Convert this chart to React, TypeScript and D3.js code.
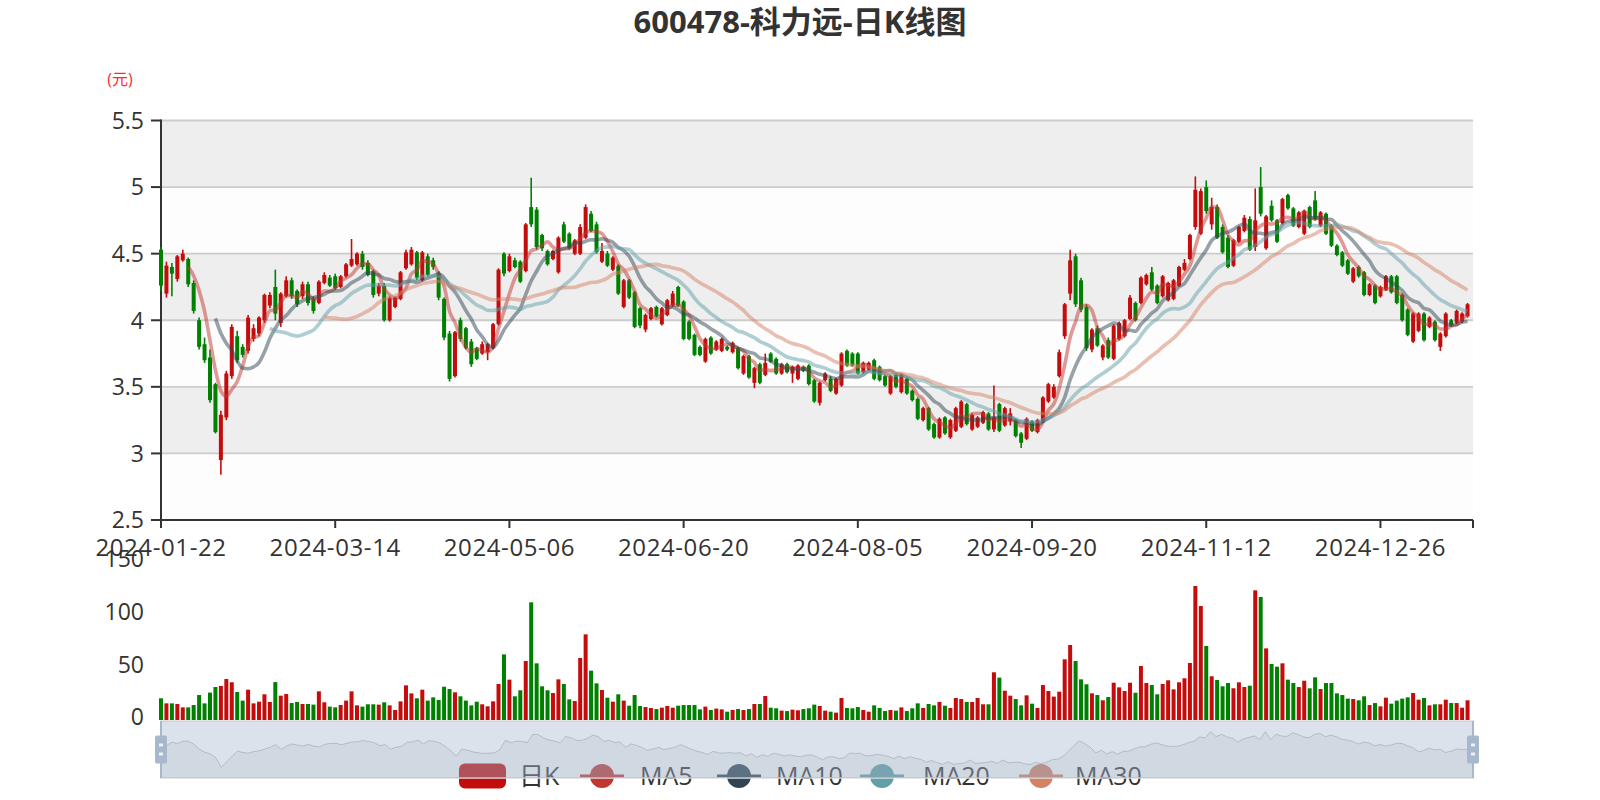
import React from 'react';
import * as d3 from 'd3';

const TITLE = '600478-科力远-日K线图';
const UNIT_LABEL = '(元)';
const START_DATE = '2024-01-22';
const CATEGORY_COUNT = 242;
const HOLIDAYS = [
  '2024-02-09', '2024-02-12', '2024-02-13', '2024-02-14', '2024-02-15', '2024-02-16',
  '2024-04-04', '2024-04-05', '2024-05-01', '2024-05-02', '2024-05-03', '2024-06-10',
  '2024-09-16', '2024-09-17', '2024-10-01', '2024-10-02', '2024-10-03', '2024-10-04',
  '2024-10-07', '2025-01-01',
];

// [open, close, lowest, highest]
const OHLC: [number, number, number, number][] = [
  [4.53, 4.26, 4.22, 4.55], [4.20, 4.41, 4.17, 4.44], [4.40, 4.35, 4.18, 4.43], [4.31, 4.48, 4.29, 4.49], [4.45, 4.50, 4.44, 4.53],
  [4.46, 4.27, 4.25, 4.47], [4.28, 4.07, 4.05, 4.30], [4.00, 3.80, 3.78, 4.02], [3.82, 3.70, 3.68, 3.87], [3.72, 3.40, 3.38, 3.78],
  [3.52, 3.16, 3.15, 3.53], [2.95, 3.29, 2.84, 3.32], [3.27, 3.60, 3.25, 3.62], [3.58, 3.95, 3.56, 3.97], [3.88, 3.70, 3.68, 3.92],
  [3.80, 3.74, 3.72, 3.82], [3.77, 4.02, 3.75, 4.04], [3.86, 3.94, 3.84, 3.97], [3.90, 4.02, 3.88, 4.03], [4.00, 4.19, 3.98, 4.20],
  [4.11, 4.19, 4.09, 4.21], [4.25, 4.05, 4.00, 4.38], [3.98, 4.20, 3.95, 4.21], [4.18, 4.30, 4.17, 4.33], [4.30, 4.18, 4.16, 4.32],
  [4.22, 4.12, 4.10, 4.23], [4.18, 4.27, 4.16, 4.29], [4.27, 4.13, 4.11, 4.29], [4.16, 4.07, 4.05, 4.18], [4.13, 4.29, 4.12, 4.30],
  [4.28, 4.34, 4.27, 4.36], [4.32, 4.26, 4.25, 4.34], [4.33, 4.24, 4.23, 4.35], [4.25, 4.33, 4.24, 4.34], [4.33, 4.42, 4.32, 4.43],
  [4.41, 4.46, 4.40, 4.61], [4.42, 4.50, 4.41, 4.51], [4.50, 4.40, 4.38, 4.52], [4.43, 4.34, 4.33, 4.45], [4.37, 4.19, 4.17, 4.38],
  [4.20, 4.26, 4.18, 4.28], [4.26, 4.00, 3.99, 4.28], [4.00, 4.17, 3.99, 4.18], [4.10, 4.17, 4.09, 4.18], [4.16, 4.36, 4.15, 4.37],
  [4.39, 4.51, 4.38, 4.53], [4.42, 4.53, 4.41, 4.55], [4.51, 4.32, 4.30, 4.52], [4.30, 4.51, 4.29, 4.52], [4.48, 4.34, 4.33, 4.50],
  [4.45, 4.40, 4.38, 4.47], [4.35, 4.17, 4.15, 4.37], [4.16, 3.87, 3.85, 4.17], [3.90, 3.56, 3.54, 3.92], [3.58, 3.91, 3.57, 3.92],
  [4.00, 3.86, 3.84, 4.02], [3.94, 3.79, 3.78, 3.95], [3.84, 3.67, 3.65, 3.86], [3.79, 3.71, 3.70, 3.80], [3.75, 3.82, 3.74, 3.84],
  [3.76, 3.82, 3.70, 3.83], [3.79, 3.97, 3.78, 3.98], [3.97, 4.38, 3.96, 4.39], [4.50, 4.35, 4.33, 4.51], [4.37, 4.48, 4.36, 4.50],
  [4.45, 4.40, 4.39, 4.47], [4.44, 4.29, 4.28, 4.45], [4.37, 4.72, 4.36, 4.73], [4.85, 4.72, 4.70, 5.07], [4.83, 4.55, 4.53, 4.85],
  [4.64, 4.54, 4.52, 4.65], [4.52, 4.42, 4.41, 4.53], [4.46, 4.52, 4.45, 4.53], [4.36, 4.62, 4.35, 4.63], [4.72, 4.59, 4.58, 4.74],
  [4.65, 4.54, 4.53, 4.66], [4.50, 4.60, 4.49, 4.61], [4.50, 4.70, 4.49, 4.72], [4.62, 4.85, 4.61, 4.87], [4.80, 4.67, 4.66, 4.82],
  [4.72, 4.51, 4.50, 4.74], [4.44, 4.52, 4.43, 4.58], [4.50, 4.41, 4.40, 4.52], [4.38, 4.47, 4.37, 4.48], [4.41, 4.20, 4.19, 4.42],
  [4.10, 4.30, 4.09, 4.31], [4.30, 4.17, 4.16, 4.31], [4.21, 3.95, 3.94, 4.22], [4.09, 3.96, 3.94, 4.10], [3.93, 4.04, 3.91, 4.05],
  [4.01, 4.09, 4.00, 4.10], [4.10, 4.03, 4.02, 4.11], [3.97, 4.09, 3.96, 4.10], [4.04, 4.15, 4.03, 4.16], [4.11, 4.20, 4.10, 4.22],
  [4.25, 4.11, 4.10, 4.26], [4.14, 3.86, 3.85, 4.15], [3.99, 3.86, 3.85, 4.00], [3.89, 3.74, 3.73, 3.90], [3.80, 3.74, 3.73, 3.81],
  [3.69, 3.86, 3.68, 3.87], [3.87, 3.75, 3.74, 3.88], [3.78, 3.84, 3.77, 3.85], [3.77, 3.86, 3.76, 3.87], [3.80, 3.78, 3.77, 3.81],
  [3.76, 3.83, 3.75, 3.84], [3.79, 3.64, 3.63, 3.80], [3.60, 3.73, 3.59, 3.74], [3.73, 3.57, 3.56, 3.74], [3.53, 3.64, 3.49, 3.65],
  [3.67, 3.53, 3.52, 3.68], [3.59, 3.68, 3.58, 3.75], [3.75, 3.69, 3.68, 3.76], [3.71, 3.60, 3.59, 3.72], [3.60, 3.67, 3.59, 3.68],
  [3.67, 3.61, 3.60, 3.68], [3.60, 3.65, 3.53, 3.66], [3.56, 3.66, 3.55, 3.67], [3.65, 3.62, 3.61, 3.66], [3.66, 3.52, 3.51, 3.67],
  [3.55, 3.39, 3.38, 3.56], [3.38, 3.53, 3.36, 3.54], [3.55, 3.60, 3.54, 3.61], [3.56, 3.47, 3.46, 3.58], [3.45, 3.56, 3.44, 3.57],
  [3.51, 3.75, 3.50, 3.76], [3.77, 3.66, 3.65, 3.78], [3.75, 3.66, 3.65, 3.76], [3.75, 3.60, 3.59, 3.76], [3.61, 3.68, 3.60, 3.69],
  [3.63, 3.68, 3.62, 3.69], [3.70, 3.56, 3.55, 3.71], [3.65, 3.55, 3.54, 3.66], [3.58, 3.51, 3.50, 3.59], [3.45, 3.58, 3.44, 3.59],
  [3.59, 3.50, 3.49, 3.60], [3.46, 3.59, 3.45, 3.60], [3.56, 3.45, 3.44, 3.57], [3.47, 3.40, 3.39, 3.48], [3.41, 3.26, 3.25, 3.42],
  [3.25, 3.34, 3.24, 3.35], [3.34, 3.18, 3.17, 3.35], [3.22, 3.12, 3.11, 3.23], [3.12, 3.26, 3.11, 3.27], [3.27, 3.15, 3.14, 3.28],
  [3.12, 3.25, 3.11, 3.26], [3.17, 3.34, 3.16, 3.35], [3.20, 3.39, 3.19, 3.40], [3.37, 3.22, 3.21, 3.38], [3.18, 3.29, 3.17, 3.30],
  [3.20, 3.27, 3.19, 3.28], [3.23, 3.31, 3.22, 3.32], [3.30, 3.18, 3.17, 3.31], [3.18, 3.27, 3.16, 3.51], [3.37, 3.17, 3.16, 3.38],
  [3.21, 3.34, 3.20, 3.35], [3.24, 3.30, 3.21, 3.34], [3.25, 3.13, 3.12, 3.26], [3.15, 3.08, 3.04, 3.16], [3.11, 3.26, 3.10, 3.27],
  [3.24, 3.17, 3.16, 3.25], [3.16, 3.25, 3.15, 3.26], [3.24, 3.42, 3.23, 3.43], [3.39, 3.52, 3.38, 3.53], [3.42, 3.50, 3.41, 3.52],
  [3.58, 3.76, 3.57, 3.78], [3.88, 4.12, 3.86, 4.13], [4.20, 4.45, 4.15, 4.53], [4.48, 4.12, 4.10, 4.50], [4.30, 4.08, 4.06, 4.32],
  [4.10, 3.79, 3.77, 4.12], [3.78, 3.93, 3.76, 3.94], [3.94, 3.81, 3.80, 3.96], [3.72, 3.81, 3.70, 3.82], [3.85, 3.72, 3.71, 3.87],
  [3.71, 3.96, 3.70, 3.97], [3.86, 3.98, 3.85, 3.99], [3.88, 4.00, 3.87, 4.01], [4.01, 4.17, 4.00, 4.19], [4.13, 4.00, 3.99, 4.14],
  [4.13, 4.32, 4.12, 4.33], [4.27, 4.34, 4.26, 4.35], [4.36, 4.23, 4.22, 4.40], [4.26, 4.13, 4.12, 4.27], [4.18, 4.33, 4.17, 4.34],
  [4.15, 4.28, 4.14, 4.29], [4.16, 4.30, 4.15, 4.31], [4.26, 4.40, 4.25, 4.41], [4.38, 4.43, 4.37, 4.46], [4.46, 4.64, 4.45, 4.65],
  [4.70, 4.98, 4.68, 5.08], [4.65, 4.97, 4.64, 4.99], [5.00, 4.82, 4.80, 5.05], [4.72, 4.85, 4.68, 4.92], [4.85, 4.62, 4.61, 4.87],
  [4.70, 4.51, 4.50, 4.72], [4.62, 4.40, 4.39, 4.64], [4.41, 4.60, 4.40, 4.61], [4.59, 4.70, 4.58, 4.71], [4.67, 4.77, 4.66, 4.79],
  [4.76, 4.53, 4.52, 4.78], [4.55, 4.75, 4.52, 4.99], [5.00, 4.80, 4.78, 5.15], [4.54, 4.78, 4.53, 4.79], [4.86, 4.75, 4.74, 4.90],
  [4.75, 4.59, 4.58, 4.76], [4.73, 4.91, 4.72, 4.92], [4.94, 4.84, 4.83, 4.95], [4.84, 4.71, 4.70, 4.85], [4.70, 4.81, 4.69, 4.82],
  [4.65, 4.82, 4.64, 4.83], [4.85, 4.70, 4.69, 4.86], [4.90, 4.76, 4.75, 4.97], [4.71, 4.81, 4.70, 4.82], [4.80, 4.65, 4.64, 4.81],
  [4.71, 4.56, 4.55, 4.72], [4.56, 4.49, 4.48, 4.57], [4.51, 4.41, 4.40, 4.52], [4.45, 4.35, 4.34, 4.46], [4.29, 4.39, 4.28, 4.40],
  [4.40, 4.33, 4.32, 4.41], [4.36, 4.19, 4.18, 4.37], [4.19, 4.27, 4.18, 4.28], [4.26, 4.13, 4.12, 4.27], [4.18, 4.25, 4.17, 4.26],
  [4.23, 4.33, 4.22, 4.34], [4.33, 4.21, 4.20, 4.34], [4.33, 4.13, 4.12, 4.34], [4.19, 4.00, 3.99, 4.20], [4.08, 3.89, 3.88, 4.09],
  [3.84, 4.05, 3.83, 4.06], [3.92, 4.05, 3.91, 4.06], [4.05, 3.85, 3.84, 4.06], [3.95, 4.02, 3.94, 4.03], [3.99, 3.85, 3.84, 4.00],
  [3.80, 3.90, 3.77, 3.91], [3.88, 4.05, 3.87, 4.06], [4.00, 3.96, 3.95, 4.01], [3.98, 4.07, 3.97, 4.08], [3.99, 4.05, 3.98, 4.06],
  [4.03, 4.12, 4.02, 4.13],
];

const VOLUME: number[] = [
  20.6, 15.8, 15.8, 15.2, 12, 12, 14.2, 23.7, 15.8, 26,
  31.3, 32.3, 38.9, 35.8, 26.6, 18.4, 28.8, 15.8, 17.4, 24.4,
  17.1, 36, 23.1, 24.7, 16.1, 17.1, 15.2, 15.2, 14.6, 27.2,
  16.8, 12.7, 12, 14.2, 18.4, 27.2, 13.9, 12.7, 14.9, 14.9,
  14.6, 16.8, 13.9, 9.5, 17.7, 32.9, 25.3, 20.6, 28.8, 18.4,
  21.5, 19, 31.6, 29.4, 26.3, 22.5, 18.4, 13.9, 17.4, 14.9,
  13, 17.7, 34.2, 62.3, 38.3, 22.5, 28.2, 56, 111.7, 53.8,
  32, 28.2, 25.6, 38.6, 34.2, 19.6, 18, 58.9, 81.3, 46.8,
  34.8, 28.5, 21.2, 17.4, 24.4, 18.4, 13.6, 23.7, 13.3, 12.3,
  11.4, 10.4, 11.7, 13.3, 11.7, 13.6, 14.2, 14.2, 14.2, 10.1,
  12.7, 9.5, 10.8, 10.1, 7.9, 9.5, 10.4, 9.5, 10.4, 15.2,
  15.2, 22.8, 11.7, 11.1, 8.9, 8.5, 9.8, 9.2, 10.4, 11.1,
  14.6, 13.3, 8.9, 7.9, 7, 20.9, 11.4, 11.1, 12.3, 9.5,
  7.9, 13.9, 11.4, 8.5, 9.5, 8.9, 12, 8.5, 11.1, 15.8,
  11.4, 15.2, 13.9, 17.1, 13.6, 11.4, 20.9, 19.9, 17.1, 17.1,
  20.9, 14.9, 14.9, 45.3, 40.2, 27.8, 23.1, 19.9, 13.9, 23.4,
  15.5, 11.4, 33.2, 27.5, 22.2, 26.9, 57.6, 71.2, 56, 38.6,
  33.9, 25.3, 23.7, 18.7, 21.8, 35.4, 31, 27.5, 35.4, 25.9,
  51.3, 35.1, 33.2, 24.4, 34.2, 37.7, 29.1, 35.8, 39.6, 54.1,
  127.2, 108.2, 70.3, 41.5, 38, 32, 35.1, 30.1, 35.8, 31.3,
  32.6, 123.1, 116.8, 68, 53.2, 50.6, 53.8, 38.3, 35.1, 31.3,
  37.3, 30.1, 40.5, 29.4, 35.1, 35.1, 25.3, 23.7, 20.3, 19.9,
  18.7, 22.5, 14.2, 16.1, 13, 21.2, 15.5, 18.4, 20.3, 21.5,
  25.6, 19.3, 20.9, 13.9, 14.9, 14.9, 19.3, 16.1, 16.1, 11.7,
  18.7,
];

const PRICE_TICKS = [2.5, 3, 3.5, 4, 4.5, 5, 5.5];
const VOLUME_TICKS = [0, 50, 100, 150];
const LABEL_INTERVAL = 32;
const MA_SERIES = [
  { name: 'MA5', n: 5, color: '#c23531' },
  { name: 'MA10', n: 10, color: '#2f4554' },
  { name: 'MA20', n: 20, color: '#61a0a8' },
  { name: 'MA30', n: 30, color: '#d48265' },
];

const UP = '#c40c0c';
const DOWN = '#008000';
const FONT = "'Open Sans', 'Noto Sans CJK SC', sans-serif";

function tradingDays(start: string, count: number, holidays: string[]): string[] {
  const out: string[] = [];
  const d = new Date(start + 'T00:00:00Z');
  while (out.length < count) {
    const dow = d.getUTCDay();
    const s = d.toISOString().slice(0, 10);
    if (dow !== 0 && dow !== 6 && !holidays.includes(s)) out.push(s);
    d.setUTCDate(d.getUTCDate() + 1);
  }
  return out;
}

export default function App() {
  const W = 1600, H = 800;
  const left = 161, right = 1473;
  const top = 120.5, bottom = 520;
  const vTop = 562, vBottom = 720;
  const sTop = 721, sBottom = 778;

  const dates = tradingDays(START_DATE, CATEGORY_COUNT, HOLIDAYS);
  const x = d3.scalePoint<string>().domain(dates).range([left, right]);
  const y = d3.scaleLinear().domain([2.5, 5.5]).range([bottom, top]);
  const yv = d3.scaleLinear().domain([0, 150]).range([vBottom, vTop]);

  const data = OHLC.map((d, i) => ({ date: dates[i], open: d[0], close: d[1], low: d[2], high: d[3], vol: VOLUME[i] }));
  const closes = data.map((d) => d.close);

  // moving averages start once a full window precedes the day (as in the source chart)
  const maLines = MA_SERIES.map((m) => {
    const vals = closes.map((_, i) => (i < m.n ? null : (d3.mean(closes.slice(i - m.n + 1, i + 1)) as number)));
    const line = d3
      .line<number | null>()
      .defined((v) => v !== null)
      .x((_, i) => x(dates[i]) as number)
      .y((v) => y(v as number))
      .curve(d3.curveMonotoneX);
    return { ...m, path: line(vals) || '' };
  });

  // data shadow in slider
  const opens = data.map((d) => d.open);
  const ext = d3.extent(opens) as [number, number];
  const off = (ext[1] - ext[0]) * 0.3;
  const sy = d3.scaleLinear().domain([ext[0] - off, ext[1] + off]).range([sBottom, sTop]);
  const sx = d3.scaleLinear().domain([0, opens.length - 1]).range([left, right]);
  const shadowArea = d3.area<number>().x((_, i) => sx(i)).y0(sBottom).y1((v) => sy(v))(opens) || '';
  const shadowLine = d3.line<number>().x((_, i) => sx(i)).y((v) => sy(v))(opens) || '';

  const bands = PRICE_TICKS.slice(0, -1).map((t, i) => ({ y0: y(PRICE_TICKS[i + 1]), y1: y(t), dark: i % 2 === 1 }));
  const labelIdx = dates.map((_, i) => i).filter((i) => i % LABEL_INTERVAL === 0);
  const tickIdx = [...labelIdx, dates.length - 1];

  const bw = 4;
  const legendY = 776;
  const legendItems = [
    { name: 'MA5', cx: 602, color: '#c23531', tx: 640 },
    { name: 'MA10', cx: 739, color: '#2f4554', tx: 776 },
    { name: 'MA20', cx: 882, color: '#61a0a8', tx: 923 },
    { name: 'MA30', cx: 1041, color: '#d48265', tx: 1075 },
  ];

  return (
    <svg width={W} height={H} style={{ position: 'absolute', left: 0, top: 0, background: '#fff' }} fontFamily={FONT}>
      <rect x={0} y={0} width={W} height={H} fill="#fff" />
      <text x={800} y={33} textAnchor="middle" fontSize={31} fontWeight="bold" fill="#333">{TITLE}</text>
      <text x={120} y={85} textAnchor="middle" fontSize={16} fill="#ff2a2a">{UNIT_LABEL}</text>

      {/* split areas */}
      {bands.map((b, i) => (
        <rect key={i} x={left} y={b.y0} width={right - left} height={b.y1 - b.y0} fill={b.dark ? '#eeeeee' : '#fdfdfd'} />
      ))}
      {PRICE_TICKS.slice(1).map((t) => (
        <line key={t} x1={left} x2={right} y1={y(t)} y2={y(t)} stroke="#ccc" strokeWidth={1.8} />
      ))}

      {/* y axis */}
      <line x1={left} x2={left} y1={top - 1} y2={bottom} stroke="#333" strokeWidth={2} />
      {PRICE_TICKS.map((t) => (
        <g key={t}>
          <line x1={left - 10} x2={left} y1={y(t)} y2={y(t)} stroke="#333" strokeWidth={2} />
          <text x={left - 17} y={y(t)} dy="0.36em" textAnchor="end" fontSize={23} fill="#333">{t}</text>
        </g>
      ))}

      {/* candles */}
      {data.map((d) => {
        const cx = x(d.date) as number;
        const up = d.close >= d.open;
        const c = up ? UP : DOWN;
        const yt = y(Math.max(d.open, d.close));
        const yb = y(Math.min(d.open, d.close));
        return (
          <g key={d.date}>
            <line x1={cx} x2={cx} y1={y(d.high)} y2={y(d.low)} stroke={c} strokeWidth={1.6} />
            <rect x={cx - bw / 2} y={yt} width={bw} height={Math.max(1, yb - yt)} fill={c} />
          </g>
        );
      })}

      {/* MA lines */}
      {maLines.map((m) => (
        <path key={m.name} d={m.path} fill="none" stroke={m.color} strokeWidth={3.6} strokeOpacity={0.5} />
      ))}

      {/* x axis */}
      <line x1={left} x2={right} y1={bottom} y2={bottom} stroke="#333" strokeWidth={2} />
      {tickIdx.map((i) => (
        <line key={i} x1={x(dates[i])} x2={x(dates[i])} y1={bottom} y2={bottom + 8} stroke="#333" strokeWidth={2} />
      ))}
      {labelIdx.map((i) => (
        <text key={i} x={x(dates[i])} y={556} textAnchor="middle" fontSize={24} letterSpacing={0.6} fill="#333">{dates[i]}</text>
      ))}

      {/* volume */}
      {VOLUME_TICKS.map((t) => (
        <text key={t} x={left - 17} y={yv(t) - 3} dy="0.36em" textAnchor="end" fontSize={23} fill="#333">{t}</text>
      ))}
      {data.map((d) => {
        const cx = x(d.date) as number;
        const c = d.close >= d.open ? UP : DOWN;
        return <rect key={d.date} x={cx - bw / 2} y={yv(d.vol)} width={bw} height={vBottom - yv(d.vol)} fill={c} />;
      })}

      {/* legend */}
      <g fontSize={25} fill="#333">
        <rect x={459} y={legendY - 12.5} width={47} height={25} rx={6} fill={UP} />
        <text x={519} y={legendY} dy="0.35em">日K</text>
        {legendItems.map((it) => (
          <g key={it.name}>
            <line x1={it.cx - 22} x2={it.cx + 22} y1={legendY} y2={legendY} stroke={it.color} strokeWidth={3} />
            <circle cx={it.cx} cy={legendY} r={12} fill={it.color} />
            <text x={it.tx} y={legendY} dy="0.35em">{it.name}</text>
          </g>
        ))}
      </g>

      {/* data zoom slider */}
      <rect x={left} y={sTop} width={right - left} height={sBottom - sTop} fill="none" stroke="#ddd" strokeWidth={1.5} />
      <path d={shadowArea} fill="rgba(47,69,84,0.09)" />
      <path d={shadowLine} fill="none" stroke="rgba(47,69,84,0.3)" strokeWidth={1} />
      <rect x={left} y={sTop} width={right - left} height={sBottom - sTop} fill="rgba(167,183,204,0.4)" />
      <line x1={left} x2={left} y1={sTop} y2={sBottom} stroke="#a7b7cc" strokeWidth={2} />
      <line x1={right} x2={right} y1={sTop} y2={sBottom} stroke="#a7b7cc" strokeWidth={2} />
      {[left, right].map((hx) => (
        <g key={hx}>
          <rect x={hx - 6} y={(sTop + sBottom) / 2 - 14} width={12} height={28} rx={2} fill="#a7b7cc" />
          <rect x={hx - 2} y={(sTop + sBottom) / 2 - 6} width={4} height={3} fill="#fff" opacity={0.8} />
          <rect x={hx - 2} y={(sTop + sBottom) / 2 + 3} width={4} height={3} fill="#fff" opacity={0.8} />
        </g>
      ))}
    </svg>
  );
}
